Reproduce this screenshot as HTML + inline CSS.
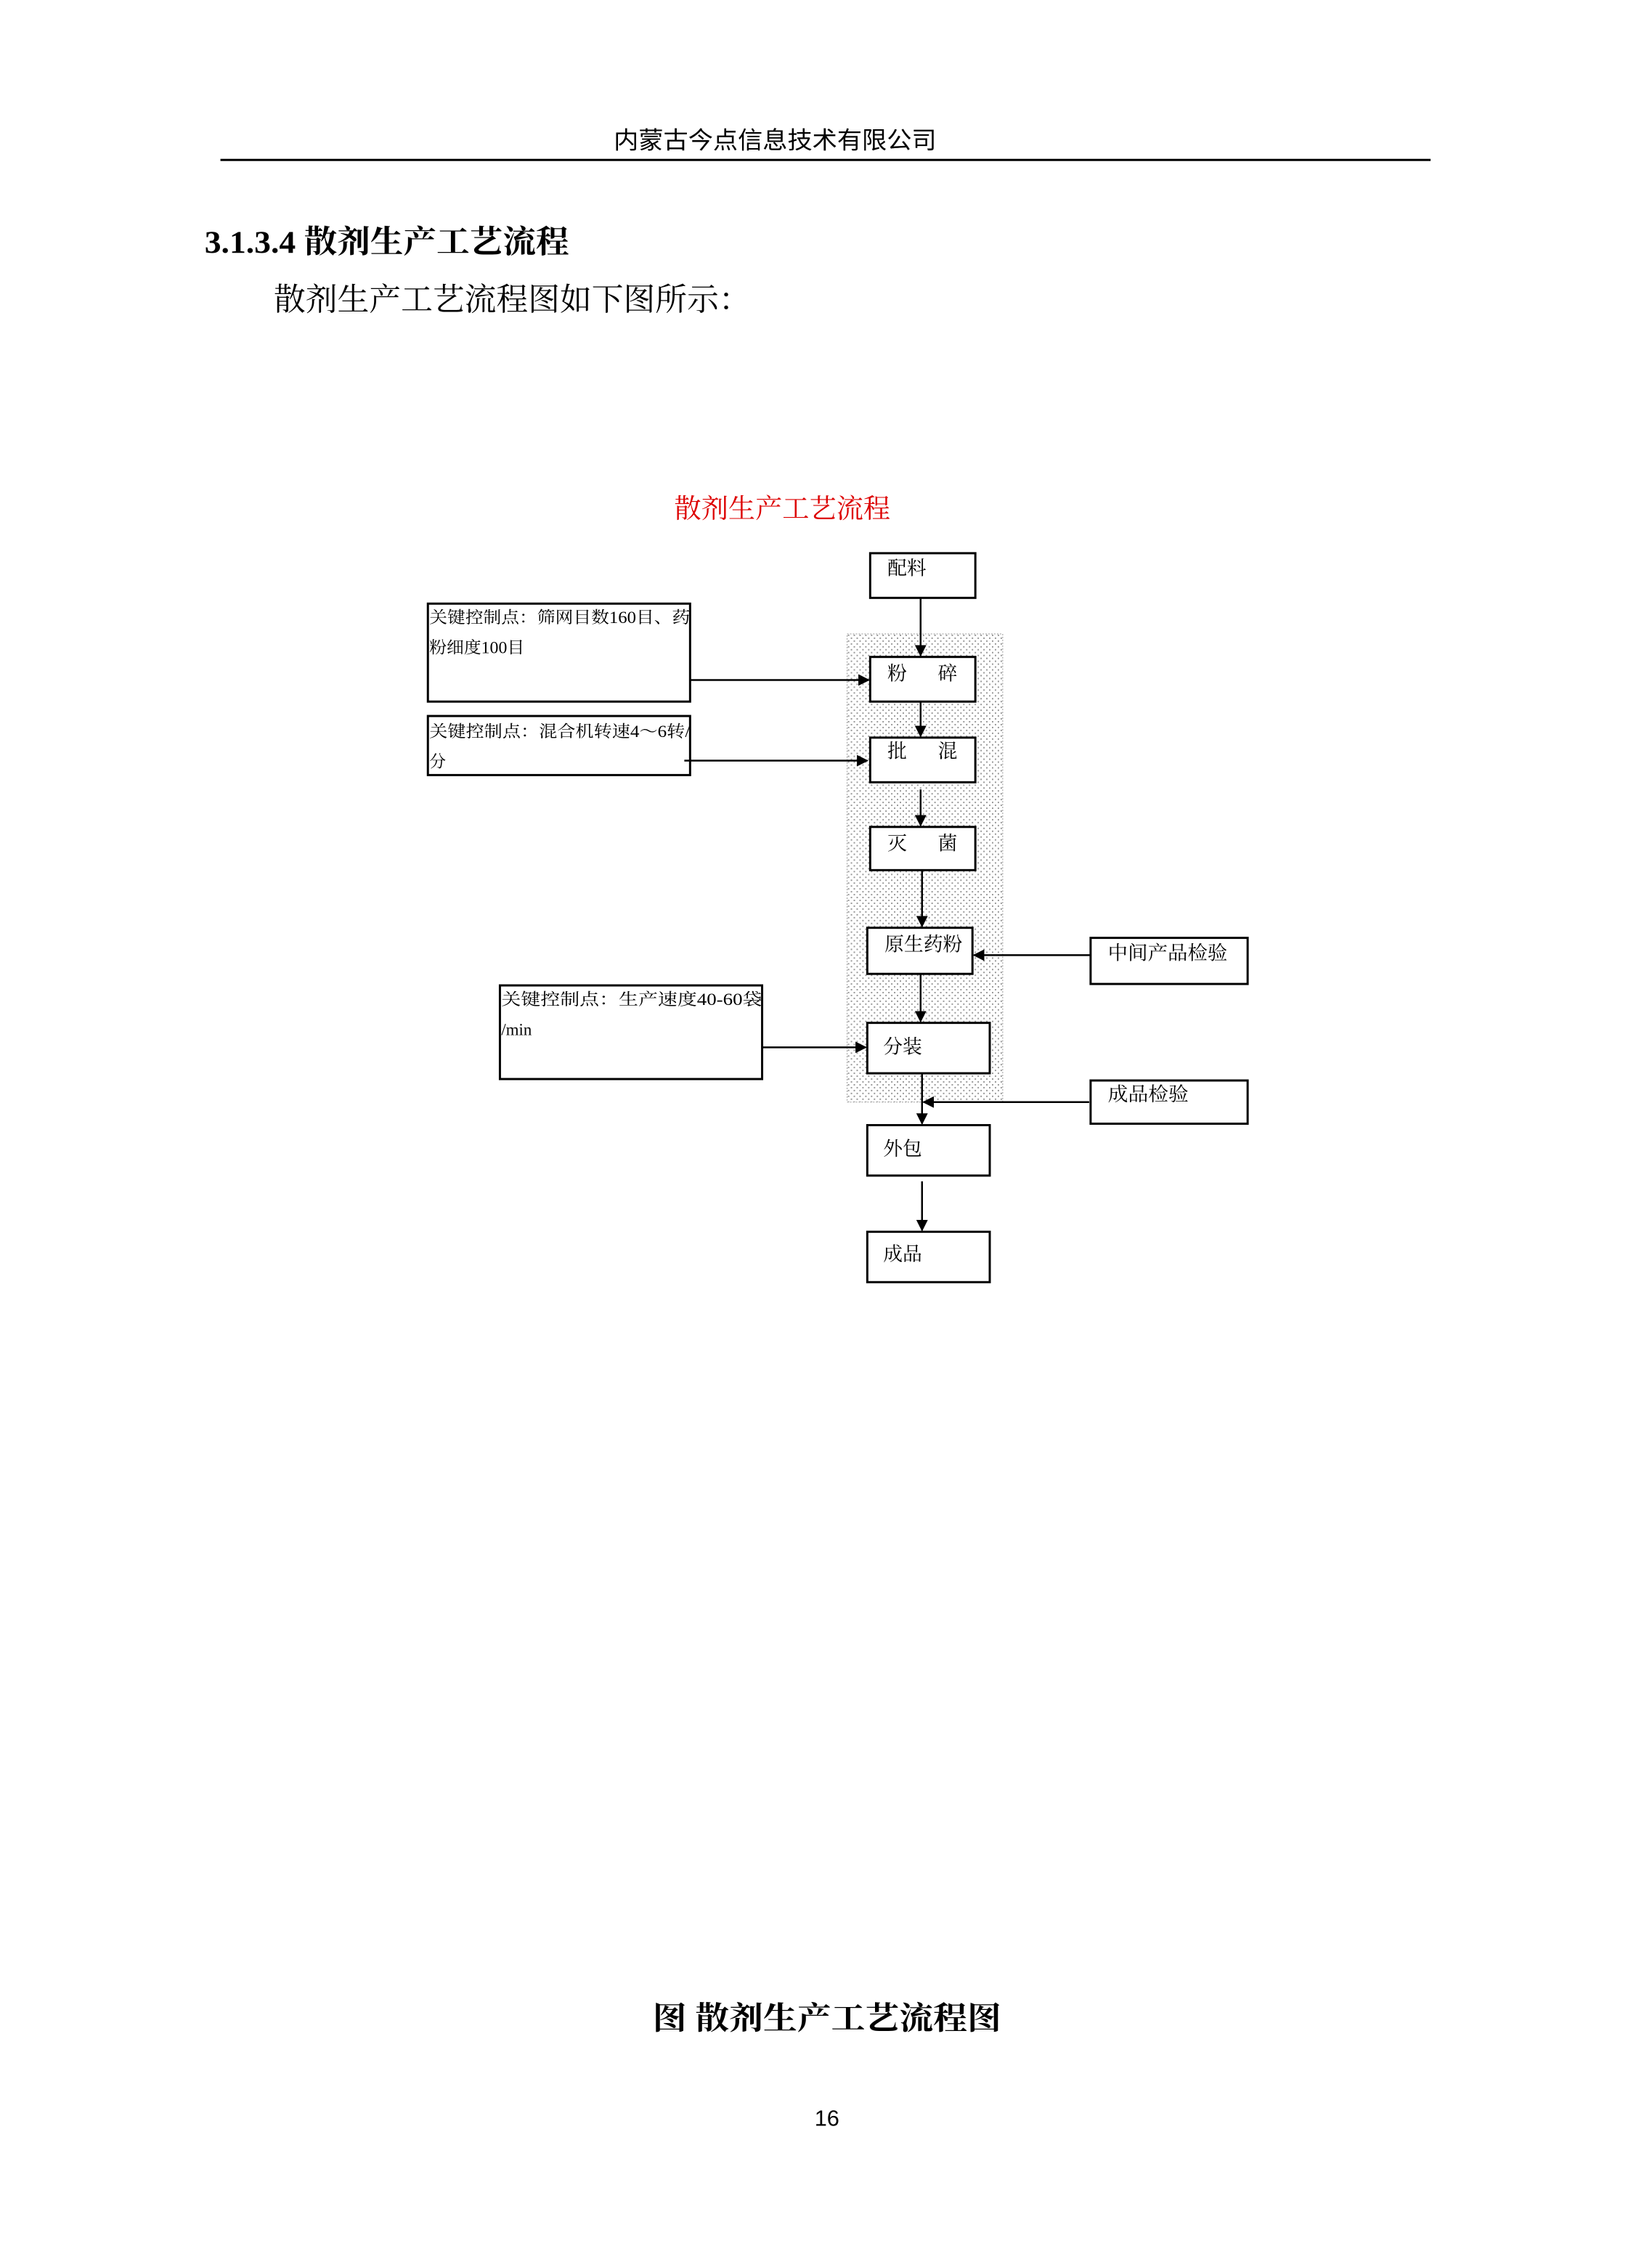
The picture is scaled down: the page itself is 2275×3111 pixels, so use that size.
<!DOCTYPE html>
<html><head><meta charset="utf-8"><style>
html,body{margin:0;padding:0;background:#fff;}
body{width:2275px;height:3111px;position:relative;overflow:hidden;}
svg{position:absolute;left:0;top:0;}
</style></head><body>
<svg width="2275" height="3111" viewBox="0 0 2275 3111" xmlns="http://www.w3.org/2000/svg" font-family="'Liberation Serif','Noto Serif CJK SC',serif">
<defs>
<pattern id="dots" width="8" height="8" patternUnits="userSpaceOnUse"><rect x="1" y="1" width="2" height="2" fill="#999"/><rect x="5" y="5" width="2" height="2" fill="#999"/></pattern>
<marker id="ahb" viewBox="0 0 10 10" markerWidth="16" markerHeight="16" refX="9" refY="5" orient="auto" markerUnits="userSpaceOnUse"><path d="M0,0 L10,5 L0,10 z" fill="#000"/></marker>
</defs>
<g transform="scale(0.992)">
<text x="852" y="206" font-size="33" textLength="448" lengthAdjust="spacingAndGlyphs" font-family="'Liberation Sans','Noto Sans CJK SC',sans-serif">内蒙古今点信息技术有限公司</text>
<line x1="306" y1="222" x2="1986" y2="222" stroke="#000" stroke-width="3"/>
<text x="284" y="351" font-size="44" font-weight="bold" textLength="506" lengthAdjust="spacingAndGlyphs">3.1.3.4 散剂生产工艺流程</text>
<text x="380" y="431" font-size="44" textLength="662" lengthAdjust="spacingAndGlyphs">散剂生产工艺流程图如下图所示：</text>
<text x="936" y="719" font-size="37" fill="#d00" textLength="300" lengthAdjust="spacingAndGlyphs">散剂生产工艺流程</text>
<rect x="1176" y="880" width="216" height="650" fill="url(#dots)" stroke="#999" stroke-width="1" stroke-dasharray="2,2"/>
<g fill="#fff" stroke="#000" stroke-width="3">
<rect x="1208" y="768" width="146" height="62"/>
<rect x="1208" y="912" width="146" height="62"/>
<rect x="1208" y="1024" width="146" height="62"/>
<rect x="1208" y="1148" width="146" height="60"/>
<rect x="1204" y="1288" width="146" height="64"/>
<rect x="1204" y="1420" width="170" height="70"/>
<rect x="1204" y="1562" width="170" height="70"/>
<rect x="1204" y="1710" width="170" height="70"/>
<rect x="1514" y="1302" width="218" height="64"/>
<rect x="1514" y="1500" width="218" height="60"/>
<rect x="594" y="838" width="364" height="136"/>
<rect x="594" y="994" width="364" height="82"/>
<rect x="694" y="1368" width="364" height="130"/>
</g>
<g stroke="#000" stroke-width="2.5" fill="none" marker-end="url(#ahb)">
<line x1="1278" y1="830" x2="1278" y2="910"/>
<line x1="1278" y1="974" x2="1278" y2="1022"/>
<line x1="1278" y1="1096" x2="1278" y2="1146"/>
<line x1="1280" y1="1208" x2="1280" y2="1286"/>
<line x1="1278" y1="1352" x2="1278" y2="1418"/>
<line x1="1280" y1="1490" x2="1280" y2="1560"/>
<line x1="1280" y1="1640" x2="1280" y2="1708"/>
<line x1="958" y1="944" x2="1206" y2="944"/>
<line x1="950" y1="1056" x2="1204" y2="1056"/>
<line x1="1058" y1="1454" x2="1202" y2="1454"/>
<line x1="1514" y1="1326" x2="1352" y2="1326"/>
<line x1="1512" y1="1530" x2="1282" y2="1530"/>
</g>
<g font-size="27">
<text x="1232" y="798">配料</text>
<text x="1232" y="944">粉</text><text x="1302" y="944">碎</text>
<text x="1232" y="1052">批</text><text x="1302" y="1052">混</text>
<text x="1232" y="1180">灭</text><text x="1302" y="1180">菌</text>
<text x="1228" y="1320">原生药粉</text>
<text x="1226" y="1462">分装</text>
<text x="1226" y="1604">外包</text>
<text x="1226" y="1750">成品</text>
<text x="1538" y="1332" textLength="166" lengthAdjust="spacingAndGlyphs">中间产品检验</text>
<text x="1538" y="1528" textLength="112" lengthAdjust="spacingAndGlyphs">成品检验</text>
</g>
<g font-size="23">
<text x="596" y="865" textLength="362" lengthAdjust="spacingAndGlyphs">关键控制点：筛网目数160目、药</text>
<text x="596" y="907" textLength="132" lengthAdjust="spacingAndGlyphs">粉细度100目</text>
<text x="596" y="1023" textLength="362" lengthAdjust="spacingAndGlyphs">关键控制点：混合机转速4～6转/</text>
<text x="596" y="1065">分</text>
<text x="696" y="1395" textLength="362" lengthAdjust="spacingAndGlyphs">关键控制点：生产速度40-60袋</text>
<text x="696" y="1437">/min</text>
</g>
<text x="906" y="2817" font-size="44" font-weight="bold" textLength="484" lengthAdjust="spacingAndGlyphs">图  散剂生产工艺流程图</text>
<text x="1148" y="2951" font-size="31" text-anchor="middle" font-family="'Liberation Sans',sans-serif">16</text>
</g>
</svg>
</body></html>
